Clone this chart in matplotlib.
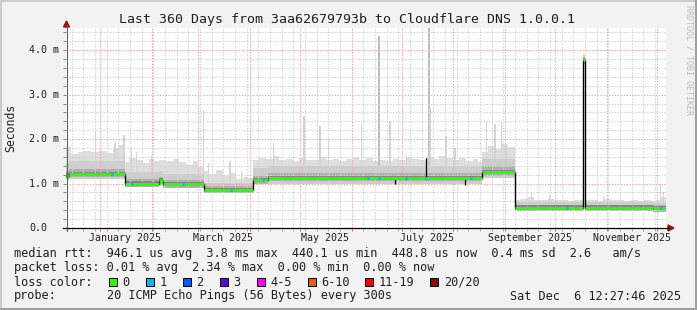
import numpy as np
import matplotlib
matplotlib.use("Agg")
import matplotlib.pyplot as plt
import matplotlib.dates as mdates
from matplotlib.patches import Polygon, Rectangle
from matplotlib.lines import Line2D
from matplotlib.transforms import blended_transform_factory
from datetime import datetime, timedelta

W, H = 697, 310
MONO = "DejaVu Sans Mono"

end_time = datetime(2025, 12, 6, 12, 27, 46)
span_days = 360

# median rtt per segment (days since start of graph, values in ms)
seg_start = [0.0, 1.5, 35.4, 56.0, 58.0, 82.5, 112.0, 121.0, 249.4, 269.4, 310.0, 311.5, 352.0]
seg_med = [1.17, 1.21, 1.00, 1.06, 0.98, 0.85, 1.07, 1.12, 1.25, 0.45, 3.77, 0.45, 0.44]
# smoke: min ping, dark band top, medium band top
seg_lo = [1.08, 1.10, 0.92, 0.95, 0.91, 0.80, 0.98, 0.99, 1.12, 0.42, 3.70, 0.42, 0.41]
seg_dark = [1.28, 1.32, 1.10, 1.14, 1.08, 0.94, 1.18, 1.24, 1.40, 0.52, 3.85, 0.52, 0.51]
seg_mid = [1.45, 1.50, 1.25, 1.28, 1.22, 1.02, 1.35, 1.40, 1.55, 0.58, 3.90, 0.58, 0.57]

# light smoke upper envelope (max ping)
env_day = [0, 3, 7, 11, 15, 20, 24, 28, 32,
           35.4, 38, 42, 46, 50, 53,
           56, 60, 64, 68, 72, 76, 79,
           82.5, 86, 90, 94, 98, 102, 106, 109,
           112, 116, 120, 124, 128, 132, 136, 140, 144, 148, 152, 156, 160, 164,
           168, 172, 176, 180, 184, 188, 192, 196, 200, 204, 208, 212, 216, 220,
           224, 228, 232, 236, 240, 244, 247,
           249.4, 253, 257, 261, 265,
           269.4, 273, 277, 281, 285, 289, 293, 297, 301, 305,
           310, 311.5, 315, 319, 323, 327, 331, 335, 339, 343, 347, 351, 354, 357]
env_top = [1.82, 1.66, 1.70, 1.74, 1.70, 1.74, 1.68, 1.80, 1.86,
           1.48, 1.58, 1.52, 1.46, 1.55, 1.50,
           1.52, 1.50, 1.56, 1.48, 1.42, 1.50, 1.38,
           1.28, 1.22, 1.30, 1.18, 1.24, 1.10, 1.15, 1.12,
           1.52, 1.58, 1.55, 1.62, 1.52, 1.55, 1.50, 1.58, 1.52, 1.54, 1.60, 1.52, 1.55, 1.50,
           1.56, 1.60, 1.52, 1.58, 1.50, 1.54, 1.50, 1.56, 1.52, 1.58, 1.55, 1.52, 1.60, 1.55,
           1.62, 1.58, 1.52, 1.58, 1.50, 1.55, 1.48,
           1.72, 1.85, 1.78, 1.90, 1.82,
           0.62, 0.65, 0.70, 0.64, 0.62, 0.66, 0.63, 0.62, 0.60, 0.62,
           3.92, 0.62, 0.64, 0.60, 0.66, 0.63, 0.62, 0.60, 0.62, 0.61, 0.62, 0.60, 0.64, 0.70]

# single tall smoke spikes
spike_day = [17.8, 29.4, 34.8, 39.4, 42.4, 51.4, 82.4, 85.4, 98.4, 105.4, 124.4, 142.8,
             152.4, 157.4, 177.4, 187.8, 194.4, 204.4, 217.8, 218.4, 228.0, 233.4,
             252.4, 257.4, 261.4, 264.4, 279.4, 290.4, 322.4, 356.8, 358.4]
spike_top = [2.19, 1.92, 2.09, 1.81, 1.71, 1.62, 2.65, 1.47, 1.51, 1.29, 1.92, 2.51,
             2.30, 1.96, 2.34, 4.33, 2.41, 1.62, 4.52, 2.71, 2.08, 1.81,
             2.38, 2.34, 2.39, 1.81, 0.80, 0.72, 0.72, 0.98, 0.81]

# short median excursions
blip_day = [197.4, 215.8, 239.4]
blip_val = [0.99, 1.58, 0.97]

# samples with 1/20 packet loss
loss1_day = [27.4, 39.4, 70.0, 98.8, 118.0, 181.4, 187.8, 204.0, 216.0, 243.0, 300.4, 356.8]

loss_labels = ["0", "1", "2", "3", "4-5", "6-10", "11-19", "20/20"]
loss_colors = ["#26ff00", "#00b8ff", "#0059ff", "#5e00ff", "#ff00ff", "#ff5500", "#ff0000", "#a10000"]

ytick_vals = [0, 1, 2, 3, 4]
ytick_text = ["0.0", "1.0 m", "2.0 m", "3.0 m", "4.0 m"]
label_months = [(2025, 1), (2025, 3), (2025, 5), (2025, 7), (2025, 9), (2025, 11)]

title = "Last 360 Days from 3aa62679793b to Cloudflare DNS 1.0.0.1"
line_rtt = "median rtt:  946.1 us avg  3.8 ms max  440.1 us min  448.8 us now  0.4 ms sd  2.6   am/s"
line_loss = "packet loss: 0.01 % avg  2.34 % max  0.00 % min  0.00 % now"
probe_txt = "20 ICMP Echo Pings (56 Bytes) every 300s"
stamp_txt = "Sat Dec  6 12:27:46 2025"


def fx(px):
    return px / W


def fy(py):
    return 1 - py / H


start_time = end_time - timedelta(days=span_days)
t0 = mdates.date2num(start_time)

fig = plt.figure(figsize=(W / 100, H / 100), dpi=100, facecolor="#f2f2f2")
ax = fig.add_axes([fx(66), fy(228), 600 / W, 200 / H])
ax.set_facecolor("white")

edges = np.array(seg_start + [span_days]) + t0
med = np.array(seg_med)

# smoke
env_edges = np.array(env_day + [span_days]) + t0
idx = np.searchsorted(seg_start, env_day, side="right") - 1
ax.stairs(env_top, env_edges, baseline=np.array(seg_lo)[idx], fill=True, color="#dedede", lw=0, zorder=1)
for d, top in zip(spike_day, spike_top):
    i = np.searchsorted(seg_start, d, side="right") - 1
    c = "#bdbdbd" if top > 3 else "#d4d4d4"
    ax.bar(t0 + d, top - seg_lo[i], bottom=seg_lo[i], width=0.9, color=c, lw=0, zorder=1)
ax.stairs(seg_mid, edges, baseline=seg_lo, fill=True, color="#cdcdcd", lw=0, zorder=1.1)
ax.stairs(seg_dark, edges, baseline=med - 0.07, fill=True, color="#b0b0b0", lw=0, zorder=1.2)
ax.stairs(med + 0.06, edges, baseline=med - 0.04, fill=True, color="#858585", lw=0, zorder=1.3)

# median line
ax.stairs(med, edges, baseline=None, color="black", lw=1.0, zorder=3)
for d, v in zip(blip_day, blip_val):
    i = np.searchsorted(seg_start, d, side="right") - 1
    ax.vlines(t0 + d, seg_med[i], v, color="black", lw=0.9, zorder=3)
ax.hlines(med, edges[:-1], edges[1:], color=loss_colors[0], lw=2.2, zorder=3.1)
for d in loss1_day:
    i = np.searchsorted(seg_start, d, side="right") - 1
    ax.hlines(seg_med[i], t0 + d - 0.6, t0 + d + 0.6, color=loss_colors[1], lw=2.2, zorder=3.2)

ax.set_xlim(t0, t0 + span_days)
ax.set_ylim(0, 4.5)

# grid
ax.xaxis.set_major_locator(mdates.MonthLocator())
ax.xaxis.set_minor_locator(mdates.WeekdayLocator(byweekday=mdates.SU))
ax.set_yticks(ytick_vals)
ax.set_yticks(np.arange(0, 4.5, 0.2), minor=True)
ax.grid(which="minor", color="#d2d2d2", lw=0.75, linestyle=(0, (1.4, 1.4)))
ax.grid(which="major", color="#f4a8a8", lw=0.75, linestyle=(0, (1.4, 1.4)))
ax.set_axisbelow(False)
ax.tick_params(which="both", labelbottom=False, labelleft=False, direction="out", length=2, width=0.7)
ax.tick_params(axis="x", which="major", color="#e07070")
ax.tick_params(axis="x", which="minor", color="#b0b0b0")
ax.tick_params(axis="y", which="both", color="#808080")
for s in ax.spines.values():
    s.set_visible(False)

# axes with arrows
fig.add_artist(Line2D([fx(66.5), fx(66.5)], [fy(231), fy(25)], color="#606060", lw=0.8))
fig.add_artist(Line2D([fx(63), fx(669)], [fy(228), fy(228)], color="black", lw=0.9))
fig.add_artist(Polygon([[fx(63.5), fy(27)], [fx(69.5), fy(27)], [fx(66.5), fy(21)]], closed=True,
                       color="#a01010", transform=fig.transFigure))
fig.add_artist(Polygon([[fx(668), fy(225)], [fx(668), fy(231)], [fx(674), fy(228)]], closed=True,
                       color="#a01010", transform=fig.transFigure))

# tick labels
ytr = blended_transform_factory(fig.transFigure, ax.transData)
for v, s in zip(ytick_vals, ytick_text):
    fig.text(fx(29), v, s, transform=ytr, ha="left", va="center", fontsize=7.2, family=MONO, color="#202020")
xtr = blended_transform_factory(ax.transData, fig.transFigure)
for y, m in label_months:
    d = datetime(y, m, 16)
    fig.text(mdates.date2num(d), fy(238), d.strftime("%B %Y"), transform=xtr, ha="center", va="center",
             fontsize=7.2, family=MONO, color="#202020")

fig.text(fx(11), fy(128), "Seconds", rotation=90, ha="center", va="center", fontsize=8.3, family=MONO,
         color="#202020")
fig.text(fx(347), fy(20), title, ha="center", va="center", fontsize=9.5, family=MONO, color="#202020")
fig.text(fx(689), fy(60), "RRDTOOL / TOBI OETIKER", rotation=-90, ha="center", va="center", fontsize=6.0,
         family=MONO, color="#bdbdbd")

# legend
fig.text(fx(14), fy(254), line_rtt, ha="left", va="center", fontsize=8.55, family=MONO, color="#202020")
fig.text(fx(14), fy(268), line_loss, ha="left", va="center", fontsize=8.55, family=MONO, color="#202020")
fig.text(fx(14), fy(282), "loss color:", ha="left", va="center", fontsize=8.55, family=MONO, color="#202020")
box_x = [108.5, 145.5, 182.5, 219.5, 256.5, 307.5, 365, 430]
for bx, lab, col in zip(box_x, loss_labels, loss_colors):
    fig.add_artist(Rectangle((fx(bx), fy(286)), 8 / W, 8.5 / H, transform=fig.transFigure,
                             facecolor=col, edgecolor="black", lw=0.7))
    fig.text(fx(bx + 14), fy(282), lab, ha="left", va="center", fontsize=8.55, family=MONO, color="#202020")
fig.text(fx(14), fy(296), "probe:", ha="left", va="center", fontsize=8.55, family=MONO, color="#202020")
fig.text(fx(107), fy(296), probe_txt, ha="left", va="center", fontsize=8.55, family=MONO, color="#202020")
fig.text(fx(681), fy(296), stamp_txt, ha="right", va="center", fontsize=8.55, family=MONO, color="#202020")

# frame
fig.add_artist(Line2D([0, 1], [fy(1), fy(1)], color="#cccccc", lw=1.5))
fig.add_artist(Line2D([fx(1), fx(1)], [0, 1], color="#cccccc", lw=1.5))
fig.add_artist(Line2D([0, 1], [fy(308.5), fy(308.5)], color="#a0a0a0", lw=2.2))
fig.add_artist(Line2D([fx(695.5), fx(695.5)], [0, 1], color="#a0a0a0", lw=2.2))

fig.savefig("out.png", dpi=100, facecolor=fig.get_facecolor())
